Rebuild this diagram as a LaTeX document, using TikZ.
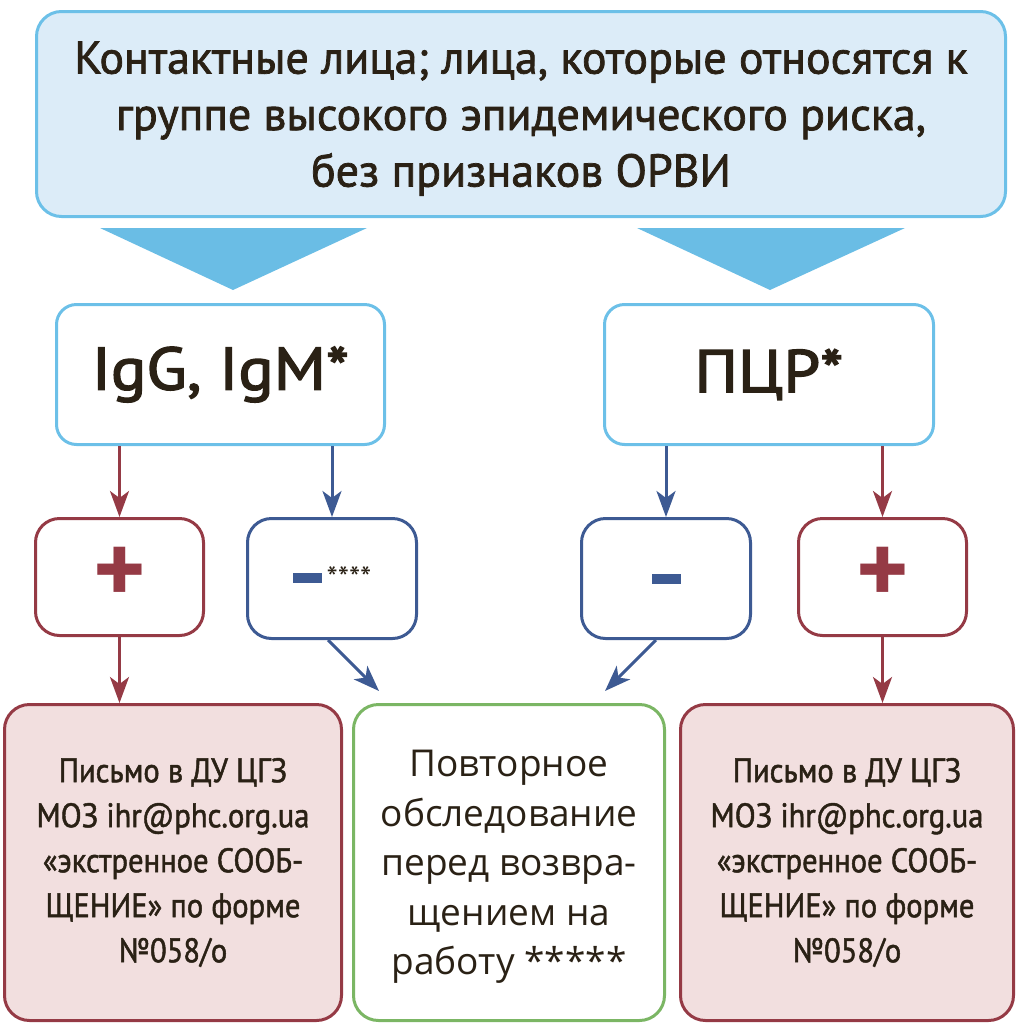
\documentclass[tikz,border=0pt]{standalone}
\usepackage{fontspec}
\setmainfont{PT Sans}
\newfontfamily\headfont[FakeBold=1.6]{PT Sans}
\newfontfamily\testfont[FakeBold=2.4, FakeStretch=1.1]{PT Sans}
\newfontfamily\narrowfont[FakeBold=1.4, FakeStretch=0.9]{PT Sans}
\newfontfamily\roundfont{Open Sans}
\usetikzlibrary{arrows.meta}

\definecolor{skyline}{HTML}{6CC0E8}
\definecolor{skyfill}{HTML}{DCECF8}
\definecolor{skytri}{HTML}{6ABDE5}
\definecolor{wine}{HTML}{953A45}
\definecolor{navy}{HTML}{3D5A93}
\definecolor{leaf}{HTML}{7BB664}
\definecolor{rosefill}{HTML}{F2DFDF}
\definecolor{ink}{HTML}{2A2115}

\tikzset{
  box/.style={draw, line width=3pt, inner sep=0pt, align=center, text=ink},
  topbox/.style={box, draw=skyline, fill=skyfill, rounded corners=25pt,
    text depth=0pt, font=\headfont\fontsize{46}{56.5}\selectfont},
  testbox/.style={box, draw=skyline, fill=white, rounded corners=20pt,
    minimum width=328pt, minimum height=140pt, font=\testfont\fontsize{60}{60}\selectfont},
  plusbox/.style={box, draw=wine, fill=white, rounded corners=24pt,
    minimum width=168pt, minimum height=117pt},
  minusbox/.style={box, draw=navy, fill=white, rounded corners=24pt,
    minimum width=169pt, minimum height=120pt},
  notebox/.style={box, draw=wine, fill=rosefill, rounded corners=25pt,
    minimum height=316pt, font=\narrowfont\fontsize{34}{45}\selectfont},
  redobox/.style={box, draw=leaf, fill=white, rounded corners=25pt, text depth=0pt,
    minimum width=311pt, minimum height=316pt, font=\roundfont\fontsize{37}{49.5}\selectfont},
  redarrow/.style={draw=wine, line width=3pt, -{Stealth[length=26pt, width=19pt, inset=7pt]}},
  bluearrow/.style={draw=navy, line width=3pt, -{Stealth[length=26pt, width=19pt, inset=7pt]}},
}

\begin{document}
\begin{tikzpicture}[x=1pt, y=-1pt]
  % 画布大小
  \useasboundingbox (0,0) rectangle (1018,1026);

  % 上方的大框
  \node[topbox, minimum width=969pt, minimum height=205pt] (top) at (521,114)
    {Контактные лица; лица, которые относятся к\\группе высокого эпидемического риска,\\без признаков ОРВИ};

  % 两个三角形
  \fill[skytri] (100,228) -- (367,228) -- (233,290) -- cycle;
  \fill[skytri] (637,228) -- (905,228) -- (770,290) -- cycle;

  % 两种检测
  \node[testbox] (igg) at (220.5,374.5) {IgG, IgM*};
  \node[testbox, minimum width=329pt] (pcr) at (769,374.5) {ПЦР*};

  % 结果框
  \node[plusbox] (iggpos) at (119.5,577) {\color{wine}\bfseries\fontsize{100}{100}\selectfont\raisebox{3pt}{+}};
  \node[minusbox] (iggneg) at (332,578.5)
    {\color{navy}\rule[-6pt]{29pt}{10pt}\hspace{5pt}\raisebox{-13pt}{\color{ink}\fontsize{32}{32}\selectfont ****}};
  \node[minusbox] (pcrneg) at (666,578.5) {\color{navy}\rule[-6pt]{29pt}{10pt}};
  \node[plusbox] (pcrpos) at (882.5,577) {\color{wine}\bfseries\fontsize{100}{100}\selectfont\raisebox{3pt}{+}};

  % 下方的三个框
  \node[notebox, minimum width=337pt] (letterl) at (173,862.5)
    {Письмо в ДУ ЦГЗ\\МОЗ ihr@phc.org.ua\\«экстренное СООБ-\\ЩЕНИЕ» по форме\\№058/о};
  \node[redobox] (retest) at (509,862.5)
    {Повторное\\обследование\\перед возвра-\\щением на\\работу *****};
  \node[notebox, minimum width=333pt] (letterr) at (847,862.5)
    {Письмо в ДУ ЦГЗ\\МОЗ ihr@phc.org.ua\\«экстренное СООБ-\\ЩЕНИЕ» по форме\\№058/о};

  % 箭头的终点
  \coordinate (retestl) at (379,691);
  \coordinate (retestr) at (605,691);

  % 箭头
  \draw[redarrow] (iggpos.north |- igg.south) -- (iggpos.north);
  \draw[bluearrow] (iggneg.north |- igg.south) -- (iggneg.north);
  \draw[bluearrow] (pcrneg.north |- pcr.south) -- (pcrneg.north);
  \draw[redarrow] (pcrpos.north |- pcr.south) -- (pcrpos.north);
  \draw[redarrow] (iggpos.south) -- (iggpos.south |- letterl.north);
  \draw[redarrow] (pcrpos.south) -- (pcrpos.south |- letterr.north);
  \draw[bluearrow] ([xshift=-4pt]iggneg.south) -- (retestl);
  \draw[bluearrow] ([xshift=-10pt]pcrneg.south) -- (retestr);
\end{tikzpicture}
\end{document}
